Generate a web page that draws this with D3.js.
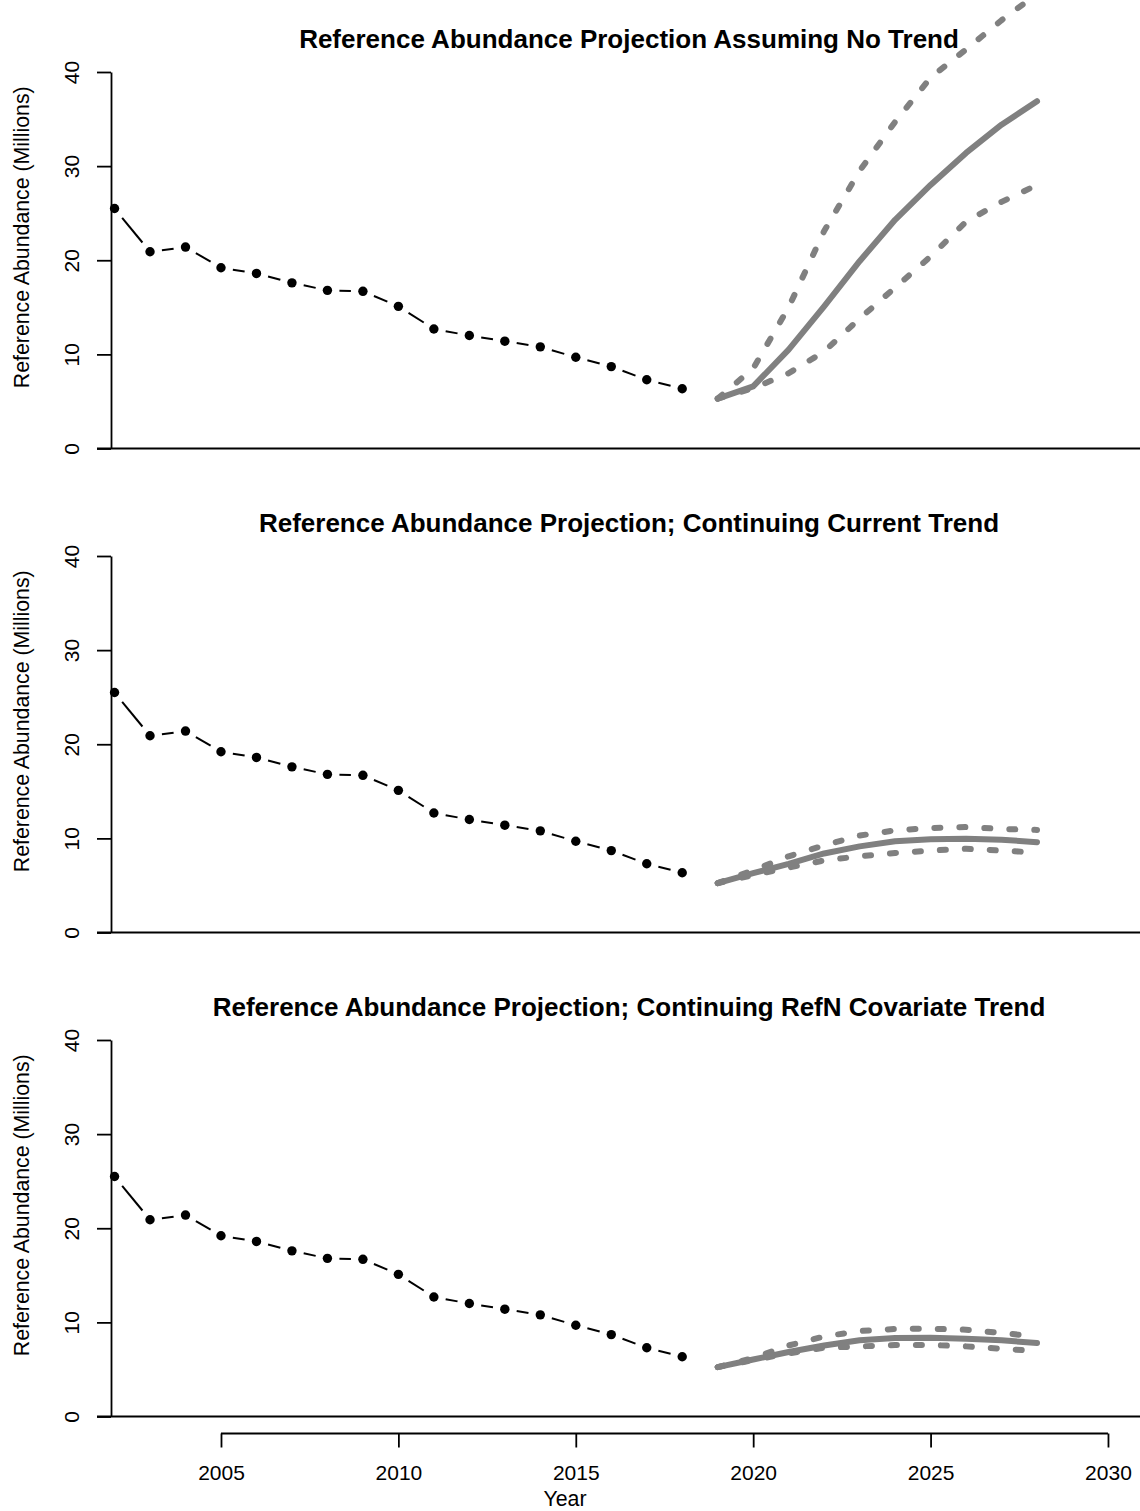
<!DOCTYPE html>
<html>
<head>
<meta charset="utf-8">
<script src="https://cdn.jsdelivr.net/npm/d3@7"></script>
<style>
  body { margin: 0; background: #fff; }
  svg { display: block; }
  text { font-family: "Liberation Sans", Arial, Helvetica, sans-serif; fill: #000; }
</style>
</head>
<body>
<svg id="chart" width="1140" height="1511"></svg>
<script>
// observed reference abundance (millions)
const histYears = [2002, 2003, 2004, 2005, 2006, 2007, 2008, 2009, 2010,
                   2011, 2012, 2013, 2014, 2015, 2016, 2017, 2018];
const histValues = [25.5, 20.9, 21.4, 19.2, 18.6, 17.6, 16.8, 16.7, 15.1,
                    12.7, 12.0, 11.4, 10.8, 9.7, 8.7, 7.3, 6.35];

// projection years
const projYears = [2019, 2020, 2021, 2022, 2023, 2024, 2025, 2026, 2027, 2028];

// no trend
const noTrendMid = [5.3, 6.6, 10.5, 15.1, 19.9, 24.3, 28.0, 31.4, 34.4, 36.9];
const noTrendHi  = [5.3, 8.5, 15.0, 23.1, 29.5, 34.7, 39.4, 42.4, 45.5, 48.3];
const noTrendLo  = [5.3, 6.4, 8.0, 10.3, 13.8, 17.1, 20.4, 24.1, 26.2, 28.0];

// continuing current trend
const curTrendMid = [5.25, 6.3, 7.3, 8.4, 9.15, 9.7, 9.9, 9.97, 9.86, 9.6];
const curTrendHi  = [5.25, 6.6, 8.1, 9.25, 10.3, 10.85, 11.1, 11.2, 11.0, 10.9];
const curTrendLo  = [5.25, 6.1, 6.9, 7.65, 8.1, 8.45, 8.7, 8.9, 8.7, 8.5];

// continuing RefN covariate trend
const covTrendMid = [5.25, 6.06, 6.85, 7.55, 8.1, 8.33, 8.37, 8.26, 8.1, 7.8];
const covTrendHi  = [5.25, 6.2, 7.55, 8.5, 9.08, 9.3, 9.33, 9.22, 8.87, 8.5];
const covTrendLo  = [5.25, 6.0, 6.7, 7.3, 7.45, 7.6, 7.6, 7.45, 7.2, 6.95];

const titles = [
  "Reference Abundance Projection Assuming No Trend",
  "Reference Abundance Projection; Continuing Current Trend",
  "Reference Abundance Projection; Continuing RefN Covariate Trend"
];
const yTicks = [0, 10, 20, 30, 40];
const xTicks = [2005, 2010, 2015, 2020, 2025, 2030];

const panels = [
  { title: titles[0], mid: noTrendMid, hi: noTrendHi, lo: noTrendLo },
  { title: titles[1], mid: curTrendMid, hi: curTrendHi, lo: curTrendLo },
  { title: titles[2], mid: covTrendMid, hi: covTrendHi, lo: covTrendLo }
];

const svg = d3.select("#chart");
const grey = "#808080";
const left = 111, right = 1147;
const panelStep = 484, panelTop = 72, panelH = 376.5;

const x = d3.scaleLinear().domain([2001.9, 2031.1]).range([left, right]);

panels.forEach((p, i) => {
  const top = panelTop + i * panelStep;
  const y = d3.scaleLinear().domain([0, 40]).range([top + panelH, top]);
  const g = svg.append("g");

  // title
  g.append("text")
    .attr("x", (left + right) / 2)
    .attr("y", top - 24)
    .attr("text-anchor", "middle")
    .style("font-size", "26px")
    .style("font-weight", "bold")
    .text(p.title);

  // y axis
  const yAxis = g.append("g").attr("transform", `translate(${left},0)`)
    .call(d3.axisLeft(y).tickValues(yTicks).tickSize(14).tickSizeOuter(0).tickFormat(d3.format("d")));
  yAxis.select(".domain").attr("stroke", "#000").attr("stroke-width", 1.8);
  yAxis.selectAll(".tick line").attr("stroke", "#000").attr("stroke-width", 1.8);
  yAxis.selectAll(".tick text")
    .attr("x", 0).attr("y", 0).attr("dy", null)
    .attr("transform", "translate(-32,0) rotate(-90)")
    .attr("text-anchor", "middle")
    .style("font-size", "21px")
    .style("font-family", "'Liberation Sans', Arial, sans-serif");

  g.append("text")
    .attr("transform", `translate(28.5,${(y(0) + y(40)) / 2 - 23}) rotate(-90)`)
    .attr("text-anchor", "middle")
    .style("font-size", "21.3px")
    .text("Reference Abundance (Millions)");

  // zero line
  g.append("line")
    .attr("x1", left - 14).attr("x2", 1140)
    .attr("y1", y(0)).attr("y2", y(0))
    .attr("stroke", "#000").attr("stroke-width", 1.8);

  // observed series: type "b" style (gaps around points)
  const pts = histYears.map((yr, k) => [x(yr), y(histValues[k])]);
  const gap = 12;
  d3.pairs(pts).forEach(([a, b]) => {
    const dx = b[0] - a[0], dy = b[1] - a[1];
    const len = Math.hypot(dx, dy);
    if (len <= 2 * gap) return;
    const ux = dx / len, uy = dy / len;
    g.append("line")
      .attr("x1", a[0] + ux * gap).attr("y1", a[1] + uy * gap)
      .attr("x2", b[0] - ux * gap).attr("y2", b[1] - uy * gap)
      .attr("stroke", "#000").attr("stroke-width", 2)
      .attr("stroke-dasharray", "40,12");
  });
  g.selectAll("circle.obs").data(pts).enter().append("circle")
    .attr("class", "obs")
    .attr("cx", d => d[0]).attr("cy", d => d[1]).attr("r", 4.7)
    .attr("fill", "#000");

  // projections
  const line = d3.line().x((d, k) => x(projYears[k])).y(d => y(d));
  [p.hi, p.lo].forEach(s => {
    g.append("path").attr("d", line(s))
      .attr("fill", "none").attr("stroke", grey).attr("stroke-width", 6)
      .attr("stroke-linecap", "round").attr("stroke-linejoin", "round")
      .attr("stroke-dasharray", "6,19");
  });
  g.append("path").attr("d", line(p.mid))
    .attr("fill", "none").attr("stroke", grey).attr("stroke-width", 6)
    .attr("stroke-linecap", "round").attr("stroke-linejoin", "round");

  // x axis only on the bottom panel
  if (i === panels.length - 1) {
    const axisY = y(0) + 17;
    const xAxis = g.append("g").attr("transform", `translate(0,${axisY})`)
      .call(d3.axisBottom(x).tickValues(xTicks).tickSize(14).tickSizeOuter(0).tickFormat(d3.format("d")));
    xAxis.select(".domain").attr("stroke", "#000").attr("stroke-width", 1.8)
      .attr("d", `M${x(xTicks[0])},0H${x(xTicks[xTicks.length - 1])}`);
    xAxis.selectAll(".tick line").attr("stroke", "#000").attr("stroke-width", 1.8);
    xAxis.selectAll(".tick text")
      .attr("y", 46).attr("dy", null)
      .style("font-size", "21px")
      .style("font-family", "'Liberation Sans', Arial, sans-serif");

    g.append("text")
      .attr("x", 565).attr("y", axisY + 72)
      .attr("text-anchor", "middle")
      .style("font-size", "21.3px")
      .text("Year");
  }
});
</script>
</body>
</html>
